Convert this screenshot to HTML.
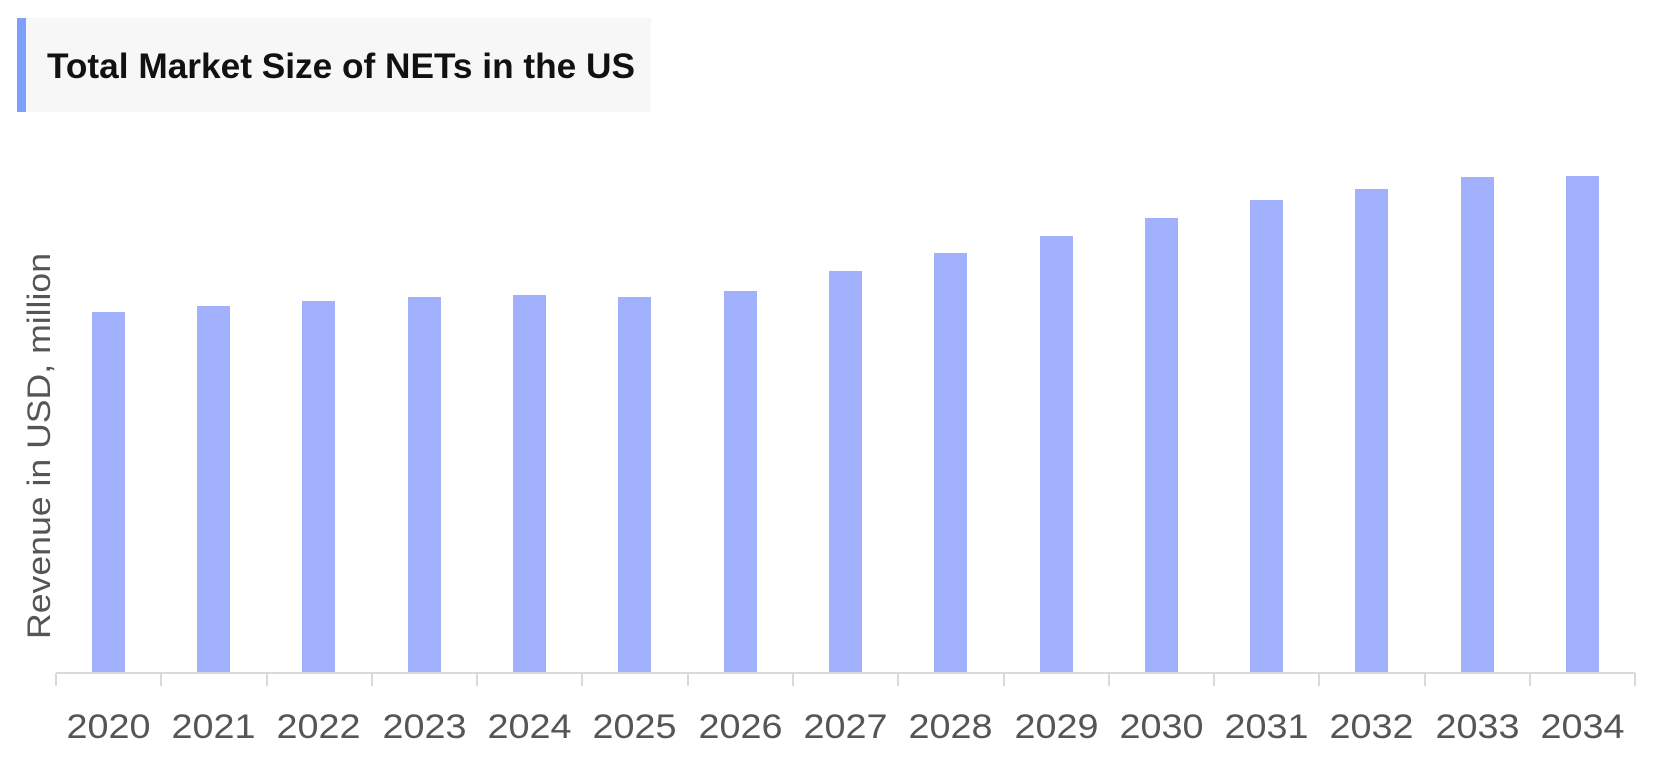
<!DOCTYPE html>
<html><head><meta charset="utf-8"><style>
html,body{margin:0;padding:0;background:#fff;}
svg{display:block;font-family:"Liberation Sans",sans-serif;}
</style></head><body>
<svg width="1667" height="763" viewBox="0 0 1667 763" xmlns="http://www.w3.org/2000/svg">
<rect x="17" y="18" width="634" height="94" fill="#f7f7f7"/>
<rect x="17" y="18" width="9" height="94" fill="#7fa0f8"/>
<text x="47" y="78" font-size="35" font-weight="bold" fill="#111" textLength="588" lengthAdjust="spacingAndGlyphs">Total Market Size of NETs in the US</text>
<text transform="translate(50,446) rotate(-90)" text-anchor="middle" font-size="32" fill="#555" textLength="386" lengthAdjust="spacingAndGlyphs">Revenue in USD, million</text>
<g fill="#a1b1fe">
<rect x="92" y="312" width="33" height="361"/>
<rect x="197" y="306" width="33" height="367"/>
<rect x="302" y="301" width="33" height="372"/>
<rect x="408" y="297" width="33" height="376"/>
<rect x="513" y="295" width="33" height="378"/>
<rect x="618" y="297" width="33" height="376"/>
<rect x="724" y="291" width="33" height="382"/>
<rect x="829" y="271" width="33" height="402"/>
<rect x="934" y="253" width="33" height="420"/>
<rect x="1040" y="236" width="33" height="437"/>
<rect x="1145" y="218" width="33" height="455"/>
<rect x="1250" y="200" width="33" height="473"/>
<rect x="1355" y="189" width="33" height="484"/>
<rect x="1461" y="177" width="33" height="496"/>
<rect x="1566" y="176" width="33" height="497"/>
</g>
<g stroke="#d9d9d9" stroke-width="2">
<line x1="56" y1="673" x2="1635" y2="673"/>
<line x1="56" y1="673" x2="56" y2="686"/>
<line x1="161" y1="673" x2="161" y2="686"/>
<line x1="267" y1="673" x2="267" y2="686"/>
<line x1="372" y1="673" x2="372" y2="686"/>
<line x1="477" y1="673" x2="477" y2="686"/>
<line x1="582" y1="673" x2="582" y2="686"/>
<line x1="688" y1="673" x2="688" y2="686"/>
<line x1="793" y1="673" x2="793" y2="686"/>
<line x1="898" y1="673" x2="898" y2="686"/>
<line x1="1004" y1="673" x2="1004" y2="686"/>
<line x1="1109" y1="673" x2="1109" y2="686"/>
<line x1="1214" y1="673" x2="1214" y2="686"/>
<line x1="1319" y1="673" x2="1319" y2="686"/>
<line x1="1425" y1="673" x2="1425" y2="686"/>
<line x1="1530" y1="673" x2="1530" y2="686"/>
<line x1="1635" y1="673" x2="1635" y2="686"/>
</g>
<g font-size="34" fill="#555" text-anchor="middle">
<text x="108.5" y="738" textLength="84" lengthAdjust="spacingAndGlyphs">2020</text>
<text x="213.5" y="738" textLength="84" lengthAdjust="spacingAndGlyphs">2021</text>
<text x="318.5" y="738" textLength="84" lengthAdjust="spacingAndGlyphs">2022</text>
<text x="424.5" y="738" textLength="84" lengthAdjust="spacingAndGlyphs">2023</text>
<text x="529.5" y="738" textLength="84" lengthAdjust="spacingAndGlyphs">2024</text>
<text x="634.5" y="738" textLength="84" lengthAdjust="spacingAndGlyphs">2025</text>
<text x="740.5" y="738" textLength="84" lengthAdjust="spacingAndGlyphs">2026</text>
<text x="845.5" y="738" textLength="84" lengthAdjust="spacingAndGlyphs">2027</text>
<text x="950.5" y="738" textLength="84" lengthAdjust="spacingAndGlyphs">2028</text>
<text x="1056.5" y="738" textLength="84" lengthAdjust="spacingAndGlyphs">2029</text>
<text x="1161.5" y="738" textLength="84" lengthAdjust="spacingAndGlyphs">2030</text>
<text x="1266.5" y="738" textLength="84" lengthAdjust="spacingAndGlyphs">2031</text>
<text x="1371.5" y="738" textLength="84" lengthAdjust="spacingAndGlyphs">2032</text>
<text x="1477.5" y="738" textLength="84" lengthAdjust="spacingAndGlyphs">2033</text>
<text x="1582.5" y="738" textLength="84" lengthAdjust="spacingAndGlyphs">2034</text>
</g>
</svg>
</body></html>
